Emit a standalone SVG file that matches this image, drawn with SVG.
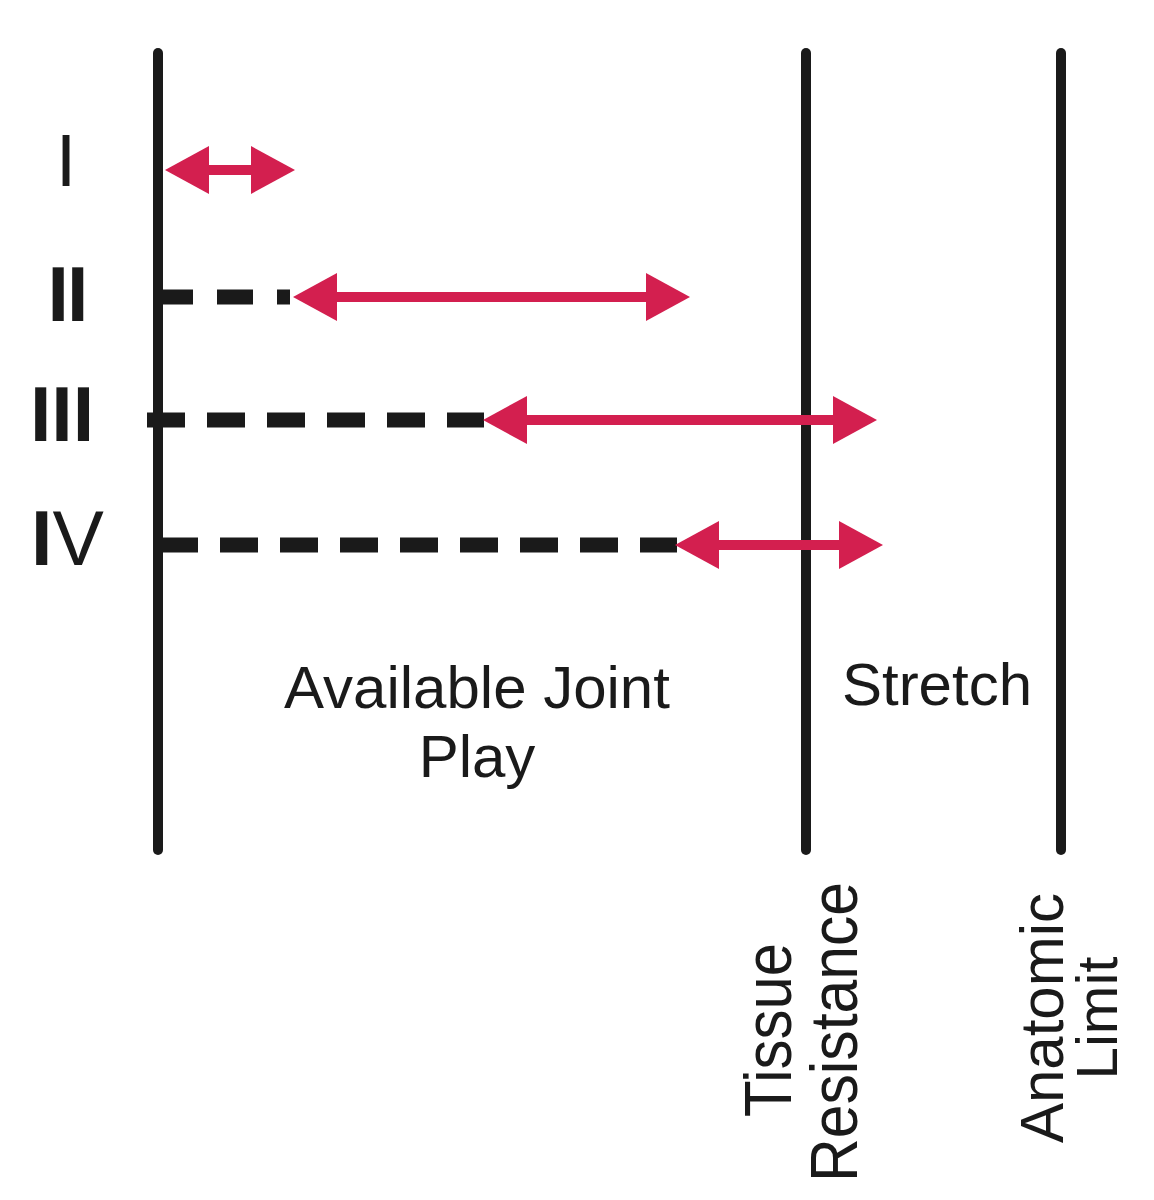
<svg xmlns="http://www.w3.org/2000/svg" width="1154" height="1200" viewBox="0 0 1154 1200">
  <defs>
    <style>
      .axis { stroke: #1a1a1a; stroke-width: 10; stroke-linecap: round; fill: none; }
      .dash { stroke: #1a1a1a; stroke-width: 15; stroke-linecap: butt; fill: none; }
      .arrow { stroke: #d31f4f; stroke-width: 10; fill: none; marker-start: url(#head); marker-end: url(#head); }
      .num { font-family: "Liberation Sans", Arial, sans-serif; font-size: 77px; font-weight: bold; fill: #1a1a1a; text-anchor: middle; }
      .lbl { font-family: "Liberation Sans", Arial, sans-serif; font-size: 60px; fill: #1a1a1a; text-anchor: middle; }
      .vlbl { font-family: "Liberation Sans", Arial, sans-serif; font-size: 66px; fill: #1a1a1a; text-anchor: middle; }
    </style>
    <marker id="head" markerUnits="userSpaceOnUse" viewBox="0 -25 44 50" markerWidth="44" markerHeight="50" refX="14" refY="0" orient="auto-start-reverse">
      <path d="M0,-24 L44,0 L0,24 Z" fill="#d31f4f"/>
    </marker>
  </defs>

  <g id="limits">
    <line id="start-line" class="axis" x1="158" y1="53" x2="158" y2="850"/>
    <line id="tissue-line" class="axis" x1="806" y1="53" x2="806" y2="850"/>
    <line id="anatomic-line" class="axis" x1="1061" y1="53" x2="1061" y2="850"/>
  </g>

  <g id="grade-labels">
    <text id="grade-I" class="num" x="66" y="186" style="font-size:74px;font-weight:normal">I</text>
    <text id="grade-II" class="num" x="67" y="321" letter-spacing="-2">II</text>
    <text id="grade-III" class="num" x="62" y="441">III</text>
    <text id="grade-IV" class="num" x="31" y="565" style="text-anchor:start">I<tspan style="font-weight:normal">V</tspan></text>
  </g>

  <g id="connectors">
    <line class="dash" x1="157" y1="297" x2="290" y2="297" stroke-dasharray="36 24"/>
    <line class="dash" x1="147" y1="420" x2="484" y2="420" stroke-dasharray="38 22"/>
    <line class="dash" x1="160" y1="545" x2="677" y2="545" stroke-dasharray="38 22"/>
    <line id="arrow-I" class="arrow" x1="195" y1="170" x2="265" y2="170"/>
    <line id="arrow-II" class="arrow" x1="323" y1="297" x2="660" y2="297"/>
    <line id="arrow-III" class="arrow" x1="513" y1="420" x2="847" y2="420"/>
    <line id="arrow-IV" class="arrow" x1="705" y1="545" x2="853" y2="545"/>
  </g>

  <g id="region-labels">
    <text id="joint-play" class="lbl" x="477"><tspan x="477" y="708">Available Joint</tspan><tspan x="477" y="777">Play</tspan></text>
    <text id="stretch" class="lbl" x="937" y="705">Stretch</text>
  </g>

  <g id="limit-labels">
    <text id="tissue" class="vlbl" transform="translate(791,1030) rotate(-90)" textLength="174" lengthAdjust="spacingAndGlyphs">Tissue</text>
    <text id="resistance" class="vlbl" transform="translate(857,1032) rotate(-90)" textLength="300" lengthAdjust="spacingAndGlyphs">Resistance</text>
    <text id="anatomic" class="vlbl" style="font-size:62px" transform="translate(1063,1018) rotate(-90)" textLength="250" lengthAdjust="spacingAndGlyphs">Anatomic</text>
    <text id="limit" class="vlbl" style="font-size:58px" transform="translate(1117,1018) rotate(-90)" textLength="123" lengthAdjust="spacingAndGlyphs">Limit</text>
  </g>
</svg>
